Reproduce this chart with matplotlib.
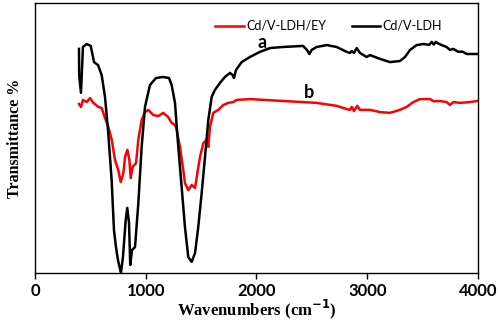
import matplotlib
matplotlib.use("Agg")
import matplotlib.pyplot as plt

# FTIR spectra (wavenumber in cm-1, transmittance in arbitrary %)
wn_ldh = [397, 399, 415, 433, 467, 503, 533, 569, 602, 632, 659, 692, 713, 731,
          749, 776, 794, 819, 833, 849, 860, 876, 903, 933, 963, 993, 1038, 1092,
          1156, 1210, 1234, 1264, 1291, 1324, 1354, 1384, 1415, 1445, 1474, 1505,
          1535, 1565, 1595, 1625, 1670, 1715, 1760, 1785, 1797, 1815, 1866, 1941,
          2031, 2122, 2239, 2420, 2456, 2477, 2498, 2543, 2634, 2724, 2814, 2844,
          2860, 2880, 2905, 2934, 2995, 3025, 3115, 3205, 3295, 3341, 3386, 3446,
          3506, 3560, 3582, 3600, 3620, 3641, 3672, 3717, 3747, 3777, 3822, 3860,
          3898, 3994]
t_ldh = [83.0, 73.0, 66.7, 83.7, 84.8, 84.1, 78.1, 77.0, 73.3, 65.2, 53.0, 34.4,
         15.9, 9.6, 4.8, 0.0, 5.9, 19.6, 24.1, 18.5, 3.0, 8.5, 9.6, 25.9, 46.7,
         61.5, 69.6, 72.2, 72.6, 72.2, 69.6, 63.0, 48.1, 31.9, 17.0, 5.9, 4.1, 7.4,
         17.0, 29.6, 43.0, 56.7, 65.2, 67.8, 70.4, 72.6, 74.1, 73.3, 72.2, 75.2,
         78.1, 80.0, 81.9, 83.3, 83.7, 84.1, 82.6, 81.1, 82.6, 83.7, 84.4, 83.7,
         81.9, 81.5, 82.2, 81.5, 83.3, 81.5, 80.0, 80.7, 79.3, 78.1, 78.5, 80.0,
         82.6, 84.4, 84.8, 84.5, 85.6, 84.6, 85.6, 85.0, 84.4, 83.7, 82.6, 83.0,
         81.9, 82.0, 81.1, 81.1]

wn_ey = [397, 415, 433, 467, 497, 527, 572, 602, 632, 662, 693, 722, 752, 774,
         798, 813, 834, 852, 864, 882, 912, 933, 963, 993, 1023, 1068, 1113, 1158,
         1201, 1234, 1264, 1279, 1309, 1339, 1354, 1384, 1415, 1445, 1466, 1490,
         1520, 1550, 1565, 1580, 1610, 1655, 1700, 1745, 1790, 1821, 1941, 2239,
         2543, 2724, 2814, 2844, 2860, 2880, 2910, 2934, 3025, 3115, 3205, 3295,
         3356, 3416, 3476, 3566, 3600, 3657, 3717, 3747, 3777, 3837, 3928, 3994]
t_ey = [62.6, 61.5, 64.1, 63.3, 64.8, 63.0, 61.5, 61.1, 57.4, 54.1, 49.3, 41.9,
        38.1, 33.7, 37.0, 43.0, 45.6, 41.9, 35.2, 39.3, 40.7, 49.3, 56.7, 59.6,
        60.4, 58.5, 58.1, 59.3, 57.8, 55.6, 54.8, 53.0, 46.7, 38.1, 33.3, 30.7,
        32.6, 31.5, 37.0, 43.0, 48.1, 49.3, 46.7, 54.1, 59.3, 60.4, 62.2, 63.0,
        63.3, 64.1, 64.4, 63.7, 63.0, 61.9, 60.7, 60.4, 61.5, 60.0, 61.9, 60.4,
        60.4, 59.6, 59.3, 60.4, 61.5, 63.3, 64.4, 64.4, 63.6, 63.7, 63.3, 62.2,
        63.3, 63.0, 63.3, 63.7]

xticks = [0, 1000, 2000, 3000, 4000]

fig = plt.figure(figsize=(4.98, 3.23), dpi=100)
ax = fig.add_axes([0.0703, 0.1548, 0.8895, 0.836])

ax.plot(wn_ey, t_ey, color='#ff0000', linewidth=1.8, label='Cd/V-LDH/EY')
ax.plot(wn_ldh, t_ldh, color='black', linewidth=1.8, label='Cd/V-LDH')

ax.set_xlim(0, 4000)
ax.set_ylim(0, 100)
ax.set_xticks(xticks)
ax.set_xticklabels([str(v) for v in xticks], fontfamily='Lato',
                   fontweight='bold', fontsize=12)
ax.set_yticks([])
ax.tick_params(axis='x', direction='out', length=4, width=1, pad=3)
for sp in ax.spines.values():
    sp.set_linewidth(1.0)

ax.set_xlabel('Wavenumbers (cm$^{\\mathbf{-1}}$)', fontfamily='Liberation Serif',
              fontweight='bold', fontsize=12, labelpad=-1)
ax.set_ylabel('Transmittance %', fontfamily='Liberation Serif',
              fontweight='bold', fontsize=11.5, labelpad=9)

# curve labels
ax.text(2050, 85.5, 'a', fontfamily='Lato', fontweight='bold', fontsize=13,
        ha='center', va='center')
ax.text(2470, 67.0, 'b', fontfamily='Lato', fontweight='bold', fontsize=13,
        ha='center', va='center')

leg = ax.legend(loc='center right', bbox_to_anchor=(0.945, 0.915), ncol=2,
                frameon=False, prop={'family': 'Lato', 'size': 9},
                handlelength=2.3, handletextpad=0.2, columnspacing=2.0)

fig.savefig('out.png', dpi=100)
